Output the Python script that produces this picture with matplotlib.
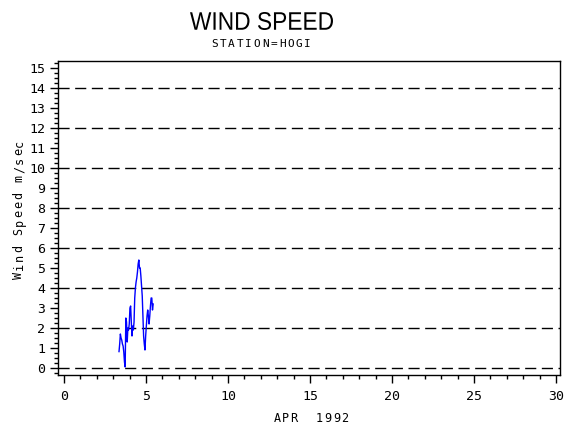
import numpy as np
import matplotlib
matplotlib.use('Agg')
import matplotlib.pyplot as plt
from matplotlib.font_manager import FontProperties
from matplotlib.textpath import TextPath
from matplotlib.patches import PathPatch
from matplotlib.transforms import Affine2D
from matplotlib.ticker import MultipleLocator

# hourly wind speed readings, starting at day 3.35 of april 1992
start_day = 3.35
speed = [0.82, 1.2, 1.7, 1.5, 1.4, 1.2, 1.1, 0.8, 0.3, 0.05,
         2.5, 2.3, 1.3, 2.0, 1.9, 2.2, 3.0, 3.1, 2.3, 1.6,
         2.1, 1.9, 2.3, 3.5, 4.0, 4.3, 4.5, 4.8, 5.2, 5.4,
         5.0, 5.0, 4.6, 4.1, 3.6, 2.6, 1.6, 1.2, 0.9, 1.6,
         2.1, 2.6, 2.9, 2.6, 2.2, 2.6, 3.1, 3.5, 3.5, 2.9, 3.2]
days = start_day + np.arange(len(speed)) / 24.0

x_ticks = [0, 5, 10, 15, 20, 25, 30]
y_ticks = list(range(0, 16))
grid_levels = list(range(0, 15, 2))

W, H = 570, 430
mono = 'DejaVu Sans Mono'

fig = plt.figure(figsize=(W/100, H/100), dpi=100)
ax = fig.add_axes([58/W, 1-375/H, (560-58)/W, (375-61)/H])


def spaced_text(cx, cy, s, step, size, vertical=False):
    # draw letters one by one with a fixed pitch (pixel coords, y from top)
    n = len(s)
    for i, ch in enumerate(s):
        off = (i - (n - 1) / 2) * step
        if vertical:
            fig.text(cx / W, 1 - (cy - off) / H, ch, rotation=90, ha='center',
                     va='center', fontsize=size, family=mono)
        else:
            fig.text((cx + off) / W, 1 - cy / H, ch, ha='center', va='center',
                     fontsize=size, family=mono)


def boxed_title(s, x0, x1, ytop, ybot):
    # squeeze a text path into a pixel box so the title looks condensed
    tp = TextPath((0, 0), s, size=20, prop=FontProperties(family='Liberation Sans'))
    ext = tp.get_extents()
    sx = (x1 - x0) / ext.width
    sy = (ybot - ytop) / ext.height
    tr = (Affine2D().translate(-ext.x0, -ext.y0).scale(sx, sy)
          .translate(x0, H - ybot).scale(1 / W, 1 / H))
    fig.add_artist(PathPatch(tr.transform_path(tp), transform=fig.transFigure,
                             facecolor='black', edgecolor='none'))


for g in grid_levels:
    ax.axhline(g, color='black', lw=1, ls=(0, (8, 4)), zorder=1)

ax.plot(days, speed, color='blue', lw=1, zorder=3)

ax.set_xlim(-0.37, 30.24)
ax.set_ylim(-0.35, 15.35)
ax.set_xticks(x_ticks)
ax.set_yticks(y_ticks)
ax.xaxis.set_minor_locator(MultipleLocator(1))
ax.yaxis.set_minor_locator(MultipleLocator(0.25))
ax.tick_params(which='major', direction='out', length=6, width=1, labelsize=9.5)
ax.tick_params(which='minor', direction='out', length=3, width=1)
ax.tick_params(axis='y', pad=3)
ax.tick_params(axis='x', pad=5)
for lbl in ax.get_xticklabels() + ax.get_yticklabels():
    lbl.set_family(mono)
for sp in ax.spines.values():
    sp.set_linewidth(1)

spaced_text(311, 419, 'APR  1992', 8.5, 8.5)
spaced_text(19, 209, 'Wind Speed m/sec', 8.8, 8.5, vertical=True)

boxed_title('WIND SPEED', 190, 333, 12, 30)
spaced_text(261, 44, 'STATION=HOGI', 8.5, 8)

fig.savefig('out.png', dpi=100)
plt.close()
